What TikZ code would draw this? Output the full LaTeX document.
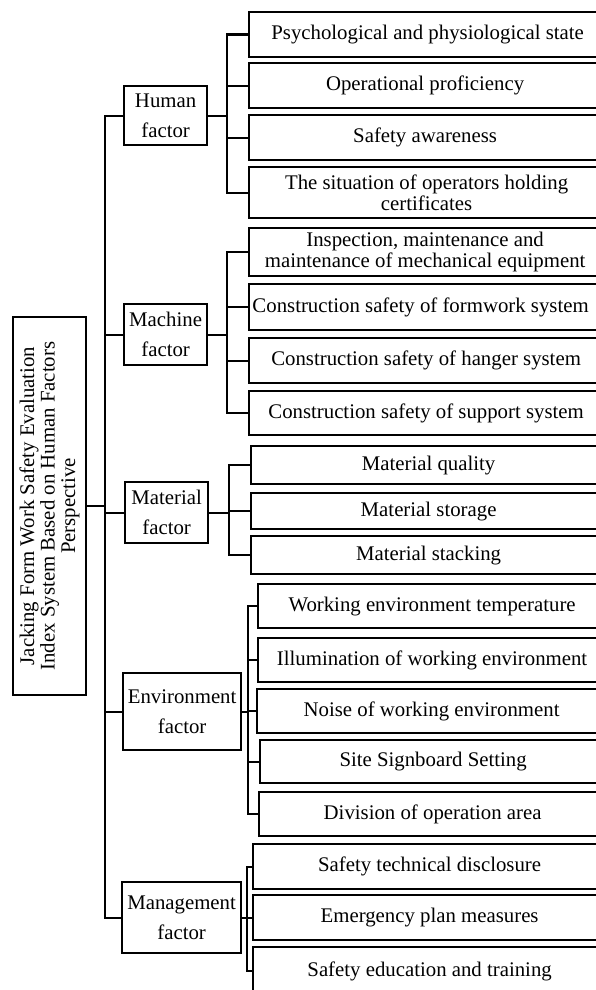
\documentclass[tikz,border=0pt]{standalone}
\usepackage{fontspec}
\setmainfont{Liberation Serif}
\newcommand\leaffont{\fontsize{20.8}{20.5}\selectfont}
\newcommand\factfont{\fontsize{20.8}{30}\selectfont}
\begin{document}
\begin{tikzpicture}[x=1pt,y=-1pt,
  box/.style={draw, line width=2.2pt, inner sep=0pt, align=center},
  leaf/.style={box, anchor=north west, font=\leaffont},
  fact/.style={box, anchor=north west, font=\factfont},
  conn/.style={line width=2.2pt}]
\useasboundingbox (0,0) rectangle (595,990);
% root
\node[box, minimum width=73pt, minimum height=378pt] (root) at (49.5,506) {};
\node[rotate=90, align=center, font=\leaffont, inner sep=0pt] (roottext) at (root.center)
  {Jacking Form Work Safety Evaluation\\Index System Based on Human Factors\\Perspective};
% factors
\node[fact, minimum width=83pt, minimum height=59pt] (hf) at (123,85) {Human\\factor};
\node[fact, minimum width=83pt, minimum height=61pt] (mf) at (123,303) {Machine\\factor};
\node[fact, minimum width=83pt, minimum height=61pt] (tf) at (124,481) {Material\\factor};
\node[fact, minimum width=118pt, minimum height=77pt] (ef) at (122,672) {Environment\\factor};
\node[fact, minimum width=119pt, minimum height=71pt] (gf) at (121,881) {Management\\factor};
% human children
\node[leaf, minimum width=357pt, minimum height=45pt] (h1) at (248,11) {Psychological and physiological state};
\node[leaf, minimum width=352pt, minimum height=45pt] (h2) at (248,62) {Operational proficiency};
\node[leaf, minimum width=352pt, minimum height=45pt] (h3) at (248,114) {Safety awareness};
\node[leaf, minimum width=355pt, minimum height=51pt] (h4) at (248,166) {The situation of operators holding\\certificates};
% machine children
\node[leaf, minimum width=352pt, minimum height=48pt] (m1) at (248,227) {Inspection, maintenance and\\maintenance of mechanical equipment};
\node[leaf, minimum width=357pt, minimum height=46pt] (m2) at (248,283) {\makebox[330pt]{Construction safety of formwork system}\hspace*{14pt}};
\node[leaf, minimum width=354pt, minimum height=45pt] (m3) at (248,337) {Construction safety of hanger system};
\node[leaf, minimum width=354pt, minimum height=44pt] (m4) at (248,390) {Construction safety of support system};
% material children
\node[leaf, minimum width=355pt, minimum height=38pt] (t1) at (250,445) {Material quality};
\node[leaf, minimum width=355pt, minimum height=36pt] (t2) at (250,492) {Material storage};
\node[leaf, minimum width=355pt, minimum height=38pt] (t3) at (250,535) {Material stacking};
% environment children
\node[leaf, minimum width=348pt, minimum height=44pt] (e1) at (257,583) {Working environment temperature};
\node[leaf, minimum width=348pt, minimum height=44pt] (e2) at (257,637) {Illumination of working environment};
\node[leaf, minimum width=349pt, minimum height=44pt] (e3) at (256,688) {Noise of working environment};
\node[leaf, minimum width=346pt, minimum height=43pt] (e4) at (259,739) {Site Signboard Setting};
\node[leaf, minimum width=347pt, minimum height=44pt] (e5) at (258,791) {Division of operation area};
% management children
\node[leaf, minimum width=353pt, minimum height=45pt] (g1) at (252,843) {Safety technical disclosure};
\node[leaf, minimum width=353pt, minimum height=45pt] (g2) at (252,894) {Emergency plan measures};
\node[leaf, minimum width=353pt, minimum height=48pt] (g3) at (252,946) {Safety education and training};
% trunk
\coordinate (tk) at (105,506);
\draw[conn] (root.east) -- (tk);
\foreach \f in {hf,mf,tf,ef,gf} \draw[conn] (tk) |- (\f.west);
% brackets
\coordinate (hb) at (227,0);
\coordinate (mb) at (227,0);
\coordinate (tb) at (229,0);
\coordinate (eb) at (248,0);
\coordinate (gb) at (247,0);
\foreach \c in {h1,h2,h3,h4} \draw[conn] (hf.east) -- (hf.east -| hb) |- (\c.west);
\foreach \c in {m1,m2,m3,m4} \draw[conn] (mf.east) -- (mf.east -| mb) |- (\c.west);
\foreach \c in {t1,t2,t3} \draw[conn] (tf.east) -- (tf.east -| tb) |- (\c.west);
\foreach \c in {e1,e2,e3,e4,e5} \draw[conn] (ef.east) -- (ef.east -| eb) |- (\c.west);
\foreach \c in {g1,g2,g3} \draw[conn] (gf.east) -- (gf.east -| gb) |- (\c.west);
\end{tikzpicture}
\end{document}
